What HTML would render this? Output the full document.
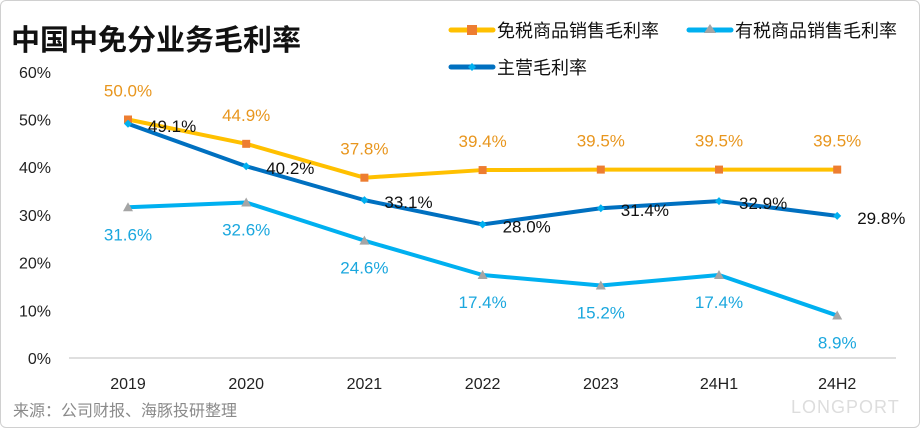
<!DOCTYPE html>
<html><head><meta charset="utf-8"><style>
body{margin:0;background:#fff;}
#wrap{position:relative;width:918px;height:426px;border:1px solid #d0d0d0;border-radius:6px;overflow:hidden;font-family:"Liberation Sans","Noto Sans CJK SC",sans-serif;}
.t{position:absolute;}
</style></head><body>
<div id="wrap">
<div class="t" style="left:10px;top:16px;font-size:29px;font-weight:bold;color:#111;font-family:'Noto Sans CJK SC',sans-serif;">中国中免分业务毛利率</div>
<div class="t" style="left:12px;top:396px;font-size:16px;color:#8a8a8a;font-family:'Noto Sans CJK SC',sans-serif;">来源：公司财报、海豚投研整理</div>
<div class="t" style="left:790px;top:396px;font-size:18px;color:#ddd;letter-spacing:1px;">LONGPORT</div>
<svg id="c" width="918" height="426" style="position:absolute;left:0;top:0"></svg>
</div>
<script>
const categories=["2019","2020","2021","2022","2023","24H1","24H2"];
const dutyFree=[50.0,44.9,37.8,39.4,39.5,39.5,39.5];
const dutyPaid=[31.6,32.6,24.6,17.4,15.2,17.4,8.9];
const mainBiz=[49.1,40.2,33.1,28.0,31.4,32.9,29.8];
const yTicks=[0,10,20,30,40,50,60];
const NS="http://www.w3.org/2000/svg";
const svg=document.getElementById('c');
const x=i=>127+i*118.2;
const y=v=>357-v*4.77;
function el(t,a,p){const e=document.createElementNS(NS,t);for(const k in a)e.setAttribute(k,a[k]);(p||svg).appendChild(e);return e;}
function txt(s,xx,yy,fill,anchor,size){const e=el('text',{x:xx,y:yy,fill:fill,'text-anchor':anchor||'middle','font-size':size||16,'font-family':'"Liberation Sans","Noto Sans CJK SC",sans-serif'});e.textContent=s;return e;}
yTicks.forEach(v=>{const t=txt(v+'%',50,y(v)+6,'#222','end',16);

});
const ax=el('line',{x1:68,x2:895,y1:357,y2:357,stroke:'#bfbfbf','stroke-width':1});


categories.forEach((c,i)=>{const t=txt(c,x(i),388,'#222','middle',16);

});
function series(data,color,w,name,marker,labColor,dx,dy,anchor){
 const pts=data.map((v,i)=>x(i)+','+y(v)).join(' ');
 const pl=el('polyline',{points:pts,fill:'none',stroke:color,'stroke-width':w,'stroke-linejoin':'round'});
 
 
 data.forEach((v,i)=>{
  const cx=x(i),cy=y(v);let m;
  if(marker==='sq')m=el('rect',{x:cx-4,y:cy-4,width:8,height:8,fill:'#ED7D31'});
  else if(marker==='tri')m=el('polygon',{points:`${cx},${cy-5} ${cx-5},${cy+4} ${cx+5},${cy+4}`,fill:'#A5A5A5'});
  else m=el('polygon',{points:`${cx},${cy-4} ${cx+4},${cy} ${cx},${cy+4} ${cx-4},${cy}`,fill:'#00B0F0'});
  
  
  const t=txt(v.toFixed(1)+'%',cx+dx,cy+dy,labColor,anchor,17);
  
  
 });
}
series(dutyFree,'#FFC000',4,'duty-free','sq','#E8961E',0,-23,'middle');
series(dutyPaid,'#00B0F0',4,'duty-paid','tri','#1AA7DE',0,33,'middle');
series(mainBiz,'#0070C0',4,'main-business','dia','#111',20,8,'start');
// legend
function leg(lx,ly,color,marker,label,name){
 const g=el('g',{});
 
 
 el('line',{x1:lx,x2:lx+42,y1:ly,y2:ly,stroke:color,'stroke-width':5,'stroke-linecap':'round'},g);
 const cx=lx+21;
 if(marker==='sq')el('rect',{x:cx-5,y:ly-5,width:10,height:10,fill:'#ED7D31'},g);
 else if(marker==='tri')el('polygon',{points:`${cx},${ly-6} ${cx-6},${ly+3} ${cx+6},${ly+3}`,fill:'#A5A5A5'},g);
 else el('polygon',{points:`${cx},${ly-4} ${cx+4},${ly} ${cx},${ly+4} ${cx-4},${ly}`,fill:'#00B0F0'},g);
 const t=txt(label,lx+46,ly+7,'#111','start',18);g.appendChild(t);
}
leg(450,29,'#FFC000','sq','免税商品销售毛利率','legend-duty-free');
leg(688,29,'#00B0F0','tri','有税商品销售毛利率','legend-duty-paid');
leg(450,66,'#0070C0','dia','主营毛利率','legend-main-business');
</script>
</body></html>
